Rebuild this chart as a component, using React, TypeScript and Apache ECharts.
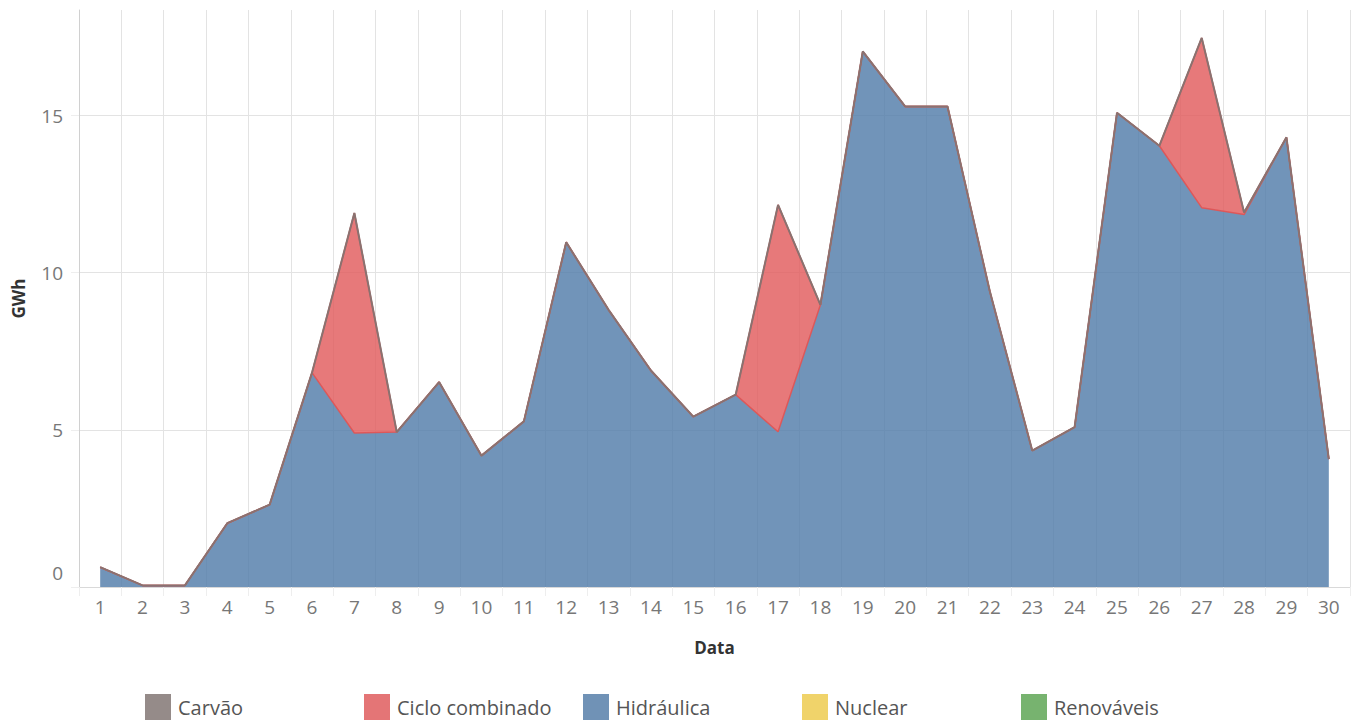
import React, { useEffect, useRef } from "react";
import * as echarts from "echarts";

const days: string[] = Array.from({ length: 30 }, (_, i) => String(i + 1));

const hidraulica: number[] = [
  0.63, 0.05, 0.05, 2.03, 2.62, 6.82, 4.9, 4.93, 6.52, 4.18,
  5.27, 10.97, 8.82, 6.89, 5.42, 6.12, 4.94, 8.98, 17.04, 15.29,
  15.29, 9.4, 4.34, 5.09, 15.09, 14.04, 12.07, 11.85, 14.31, 4.07,
];

const cicloCombinado: number[] = [
  0, 0, 0, 0, 0, 0, 7.0, 0, 0, 0,
  0, 0, 0, 0, 0, 0, 7.22, 0, 0, 0,
  0, 0, 0, 0, 0, 0, 5.4, 0.07, 0, 0,
];

const carvao: number[] = [
  0, 0, 0, 0, 0, 0, 0, 0, 0, 0,
  0, 0, 0, 0, 0, 0, 0, 0, 0, 0,
  0, 0, 0, 0, 0, 0, 0, 0, 0, 0,
];

const legendNames: string[] = ["Carvão", "Ciclo combinado", "Hidráulica", "Nuclear", "Renováveis"];
const legendColors: string[] = ["#958b89", "#e47576", "#7092b6", "#f0d36a", "#77b36f"];

const yTicks: number[] = [0, 5, 10, 15];

export default function App() {
  const ref = useRef<HTMLDivElement>(null);
  useEffect(() => {
    if (!ref.current) return;
    const chart = echarts.init(ref.current, null, { renderer: "svg" });
    const font = "'Open Sans', sans-serif";
    const option: any = {
      animation: false,
      backgroundColor: "#ffffff",
      grid: { left: 79, right: 8, top: 10, bottom: 133, containLabel: false },
      legend: legendNames.map((n, i) => ({
        data: [n],
        left: 145 + 219 * i,
        top: 694,
        itemWidth: 26,
        itemHeight: 26,
        icon: "rect",
        padding: 0,
        itemGap: 6,
        itemStyle: { color: legendColors[i], borderWidth: 0 },
        lineStyle: { width: 0 },
        textStyle: { fontFamily: font, fontSize: 20, color: "#555555", padding: [0, 0, 0, 2] },
      })),
      xAxis: {
        type: "category",
        data: days,
        boundaryGap: true,
        name: "Data",
        nameLocation: "middle",
        nameGap: 52,
        nameTextStyle: { fontFamily: font, fontSize: 17, fontWeight: "bold", color: "#333333" },
        axisLine: { show: true, lineStyle: { color: "#d9d9d9", width: 1 } },
        axisTick: { show: true, length: 9, lineStyle: { color: "#eeeeee" } },
        axisLabel: { fontFamily: font, fontSize: 19, color: "#777777", margin: 10, interval: 0 },
        splitLine: { show: true, lineStyle: { color: "#e3e3e3", width: 1 } },
      },
      yAxis: {
        type: "value",
        min: 0,
        max: 18.36,
        interval: 5,
        name: "GWh",
        nameLocation: "middle",
        nameGap: 52,
        nameTextStyle: { fontFamily: font, fontSize: 17, fontWeight: "bold", color: "#333333" },
        axisLine: { show: true, lineStyle: { color: "#d0d0d0", width: 1 } },
        axisTick: { show: true, length: 8, lineStyle: { color: "#eeeeee" } },
        axisLabel: {
          fontFamily: font,
          fontSize: 19,
          color: "#777777",
          margin: 16,
          showMaxLabel: false,
          formatter: (v: number) => (v === 0 ? "{z|0}" : yTicks.includes(v) ? String(v) : ""),
          rich: { z: { fontFamily: font, fontSize: 19, color: "#777777", padding: [0, 0, 28, 0] } },
        },
        splitLine: {
          show: true,
          lineStyle: { color: ["#e3e3e3", "#e3e3e3", "#e3e3e3", "#e3e3e3", "rgba(0,0,0,0)"], width: 1 },
        },
      },
      series: [
        {
          name: "Hidráulica",
          type: "line",
          stack: "total",
          data: hidraulica,
          color: legendColors[2],
          symbol: "none",
          lineStyle: { color: "#d9595b", width: 1.5 },
          areaStyle: { color: "#4e79a7", opacity: 0.8 },
          z: 2,
        },
        {
          name: "Ciclo combinado",
          type: "line",
          stack: "total",
          data: cicloCombinado,
          color: legendColors[1],
          symbol: "none",
          lineStyle: { color: "#d9595b", width: 1.5 },
          areaStyle: { color: "#e15759", opacity: 0.8 },
          z: 3,
        },
        {
          name: "Carvão",
          type: "line",
          stack: "total",
          data: carvao,
          color: legendColors[0],
          symbol: "none",
          lineStyle: { color: "#8a7270", width: 2 },
          areaStyle: { color: "#9c908d", opacity: 0.8 },
          z: 4,
        },
        { name: "Nuclear", type: "line", data: [], color: legendColors[3], symbol: "none" },
        { name: "Renováveis", type: "line", data: [], color: legendColors[4], symbol: "none" },
      ],
    };
    chart.setOption(option);
    return () => chart.dispose();
  }, []);
  return <div ref={ref} style={{ width: 1358, height: 720, position: "absolute", left: 0, top: 0 }} />;
}
